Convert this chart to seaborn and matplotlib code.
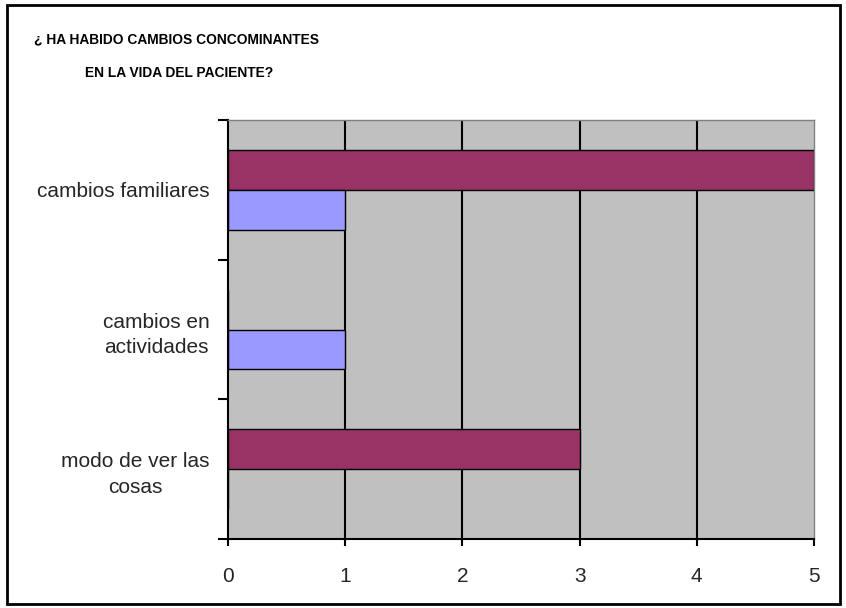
import matplotlib
matplotlib.use("Agg")
import matplotlib.pyplot as plt
import seaborn as sns
import pandas as pd
from matplotlib.patches import Rectangle

categories = ["cambios familiares", "cambios en\nactividades", "modo de ver las\ncosas"]
serie_1 = [5, 0, 3]
serie_2 = [1, 1, 0]
series_names = ["Serie 1", "Serie 2"]
colors = ["#993366", "#9999FF"]
x_ticks = [0, 1, 2, 3, 4, 5]
title_line1 = "¿ HA HABIDO CAMBIOS CONCOMINANTES"
title_line2 = "EN LA VIDA DEL PACIENTE?"

df = pd.DataFrame({
    "categoria": categories * 2,
    "valor": serie_1 + serie_2,
    "serie": [series_names[0]] * 3 + [series_names[1]] * 3,
})

sns.set_style("white")
plt.rcParams["font.family"] = ["Liberation Sans", "DejaVu Sans"]

fig = plt.figure(figsize=(8.46, 6.08), dpi=100)
ax = fig.add_axes([228 / 846, 1 - 539 / 608, (814 - 228) / 846, (539 - 120) / 608])
ax.set_facecolor("#C0C0C0")

sns.barplot(data=df, y="categoria", x="valor", hue="serie", order=categories,
            hue_order=series_names, palette=colors, orient="h", width=0.57,
            edgecolor="black", linewidth=1.0, saturation=1, legend=False, ax=ax)

ax.set_xlim(0, 5)
ax.set_ylim(2.5, -0.5)
ax.set_xticks(x_ticks)
ax.set_xticklabels([str(t) for t in x_ticks], fontsize=15)
ax.set_yticks([-0.5, 0.5, 1.5, 2.5])
ax.set_yticklabels([])
ax.set_yticks([0, 1, 2], minor=True)
ax.set_yticklabels(categories, minor=True, fontsize=15, multialignment="center",
                   linespacing=1.45)
ax.tick_params(axis="y", which="minor", length=0, pad=13.5)
ax.tick_params(axis="y", which="major", length=7, width=1.5, color="black", direction="out", left=True)
ax.tick_params(axis="x", length=5, width=1.5, color="black", direction="out", bottom=True, pad=15)
ax.set_xlabel("")
ax.set_ylabel("")

for v in x_ticks[1:-1]:
    ax.axvline(v, color="black", linewidth=1.5, zorder=0.5)
ax.set_axisbelow(True)

for s in ["left", "bottom"]:
    ax.spines[s].set_color("black")
    ax.spines[s].set_linewidth(1.5)
for s in ["top", "right"]:
    ax.spines[s].set_color("#808080")
    ax.spines[s].set_linewidth(1.0)

fig.text(176 / 846, 1 - 43 / 608, title_line1, ha="center", va="baseline",
         fontsize=9.9, fontweight="bold", color="black")
fig.text(179 / 846, 1 - 77 / 608, title_line2, ha="center", va="baseline",
         fontsize=9.9, fontweight="bold", color="black")

fig.patches.append(Rectangle((7 / 846, 1 - 604 / 608), (840 - 7) / 846, (604 - 5) / 608,
                             transform=fig.transFigure, fill=False, edgecolor="black",
                             linewidth=2, zorder=10))

fig.savefig("out.png", dpi=100, facecolor="white")
